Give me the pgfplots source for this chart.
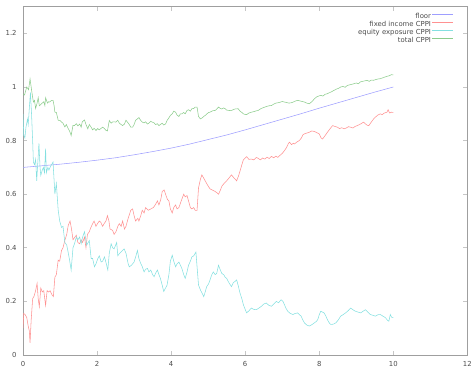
\documentclass[border=0pt]{standalone}
\usepackage{pgfplots}
\pgfplotsset{compat=1.18}
\usepackage{fontspec}
\setmainfont{DejaVu Sans}

\definecolor{floorc}{RGB}{158,158,255}
\definecolor{fixedc}{RGB}{255,145,145}
\definecolor{equityc}{RGB}{132,224,224}
\definecolor{totalc}{RGB}{140,204,140}

\begin{document}
\begin{tikzpicture}
\begin{axis}[
  scale only axis, width=449.7bp, height=352.6bp,
  xmin=0, xmax=12, ymin=0, ymax=1.3,
  xtick={0,2,4,6,8,10,12},
  ytick={0,0.2,0.4,0.6,0.8,1,1.2},
  tick align=inside, major tick length=4.5bp,
  every tick/.style={gray!45, line width=0.9bp},
  axis line style={gray!75, line width=0.7bp},
  tick label style={font=\fontsize{7}{8}\selectfont, text=black!70},
  /pgf/number format/assume math mode=true,
  yticklabel style={xshift=-3bp},
  xticklabel style={yshift=-3bp},
  legend plot pos=right,
  legend cell align=right,
  legend style={draw=none, fill=none, at={(0.9755,0.989)}, anchor=north east,
    font=\fontsize{7}{8}\selectfont, text=black!70, row sep=0pt,
    nodes={inner sep=1bp, text height=4.8bp, text depth=1.2bp}},
  legend image code/.code={\draw[#1] (0bp,2.3bp) -- (21bp,2.3bp);},
  every axis plot/.append style={line width=0.55bp},
]
% floor
\addplot[floorc] coordinates {
(0,0.700) (0.5,0.706) (1,0.712) (1.5,0.719) (2,0.727) (2.5,0.736)
(3,0.747) (3.5,0.759) (4,0.772) (4.5,0.787) (5,0.804) (5.5,0.821)
(6,0.840) (6.5,0.860) (7,0.880) (7.5,0.900) (8,0.921) (8.5,0.941)
(9,0.961) (9.5,0.981) (10,1.000)
};
\addlegendentry{floor}
% fixed income part
\addplot[fixedc] coordinates {
(0.00,0.10) (0.02,0.155) (0.06,0.15) (0.10,0.14) (0.14,0.108) (0.17,0.09)
(0.19,0.045) (0.22,0.13) (0.26,0.21) (0.30,0.22) (0.34,0.24) (0.38,0.267)
(0.41,0.21) (0.44,0.18) (0.48,0.25) (0.52,0.235) (0.56,0.24) (0.61,0.185)
(0.65,0.24) (0.69,0.235) (0.73,0.24) (0.78,0.225) (0.82,0.218) (0.86,0.29)
(0.90,0.30) (0.95,0.354) (0.99,0.35) (1.04,0.39) (1.08,0.40) (1.13,0.428)
(1.18,0.45) (1.22,0.483) (1.27,0.50) (1.31,0.47) (1.35,0.43) (1.40,0.44)
(1.44,0.447) (1.48,0.42) (1.53,0.415) (1.57,0.43) (1.61,0.42) (1.66,0.44)
(1.70,0.40) (1.74,0.45) (1.79,0.46) (1.83,0.475) (1.88,0.49) (1.92,0.50)
(1.97,0.48) (2.01,0.49) (2.06,0.50) (2.10,0.495) (2.15,0.48) (2.19,0.49)
(2.24,0.50) (2.28,0.52) (2.32,0.50) (2.35,0.47) (2.42,0.465) (2.46,0.45)
(2.51,0.46) (2.56,0.48) (2.60,0.49) (2.65,0.48) (2.69,0.50) (2.74,0.47)
(2.78,0.48) (2.84,0.51) (2.91,0.54) (2.96,0.545) (3.00,0.52) (3.04,0.50)
(3.10,0.51) (3.13,0.50) (3.18,0.52) (3.22,0.54) (3.27,0.53) (3.31,0.55)
(3.38,0.54) (3.45,0.545) (3.52,0.55) (3.58,0.562) (3.63,0.575) (3.67,0.56)
(3.72,0.58) (3.76,0.61) (3.81,0.616) (3.85,0.60) (3.90,0.58) (3.94,0.575)
(3.98,0.545) (4.03,0.53) (4.07,0.55) (4.12,0.56) (4.16,0.545) (4.21,0.55)
(4.26,0.57) (4.30,0.585) (4.34,0.60) (4.38,0.59) (4.43,0.595) (4.48,0.57)
(4.52,0.55) (4.56,0.545) (4.61,0.55) (4.65,0.54) (4.70,0.54) (4.74,0.624)
(4.79,0.655) (4.83,0.672) (4.88,0.66) (4.92,0.65) (4.98,0.635) (5.05,0.62)
(5.12,0.615) (5.19,0.61) (5.24,0.605) (5.28,0.60) (5.33,0.615) (5.37,0.63)
(5.43,0.64) (5.50,0.65) (5.56,0.66) (5.63,0.672) (5.70,0.66) (5.77,0.65)
(5.82,0.668) (5.86,0.686) (5.91,0.71) (5.95,0.728) (6.00,0.735) (6.04,0.74)
(6.10,0.73) (6.17,0.731) (6.23,0.728) (6.30,0.737) (6.35,0.734) (6.41,0.728)
(6.47,0.735) (6.53,0.731) (6.59,0.738) (6.65,0.733) (6.71,0.741) (6.77,0.736)
(6.83,0.742) (6.88,0.7375) (6.94,0.745) (7.00,0.752) (7.06,0.7625) (7.12,0.775)
(7.17,0.79) (7.20,0.794) (7.25,0.785) (7.30,0.79) (7.33,0.7875) (7.40,0.795)
(7.46,0.80) (7.52,0.81) (7.56,0.822) (7.60,0.825) (7.66,0.828) (7.73,0.831)
(7.80,0.836) (7.87,0.834) (7.93,0.83) (8.00,0.825) (8.05,0.81) (8.09,0.806)
(8.14,0.815) (8.22,0.831) (8.28,0.842) (8.36,0.856) (8.42,0.853) (8.49,0.85)
(8.55,0.845) (8.61,0.848) (8.67,0.844) (8.73,0.847) (8.79,0.852) (8.85,0.85)
(8.91,0.847) (8.97,0.853) (9.03,0.856) (9.09,0.86) (9.14,0.864) (9.20,0.869)
(9.25,0.862) (9.30,0.857) (9.34,0.856) (9.40,0.868) (9.47,0.881) (9.52,0.888)
(9.58,0.895) (9.65,0.90) (9.70,0.897) (9.76,0.903) (9.83,0.906) (9.86,0.915)
(9.90,0.903) (9.95,0.906) (10.00,0.905)
};
\addlegendentry{fixed income CPPI}
% equity exposure
\addplot[equityc] coordinates {
(0.00,0.90) (0.02,0.82) (0.05,0.81) (0.08,0.85) (0.12,0.88) (0.14,0.86)
(0.17,0.92) (0.20,0.98) (0.23,0.90) (0.26,0.80) (0.28,0.72) (0.31,0.71)
(0.34,0.73) (0.37,0.65) (0.40,0.72) (0.43,0.79) (0.46,0.70) (0.48,0.67)
(0.52,0.69) (0.55,0.70) (0.58,0.68) (0.61,0.77) (0.63,0.68) (0.67,0.70)
(0.70,0.69) (0.73,0.70) (0.77,0.71) (0.81,0.72) (0.84,0.65) (0.86,0.60)
(0.90,0.64) (0.93,0.58) (0.95,0.54) (0.99,0.50) (1.04,0.476) (1.08,0.48)
(1.13,0.42) (1.18,0.41) (1.21,0.39) (1.25,0.36) (1.30,0.317) (1.35,0.40)
(1.39,0.415) (1.44,0.44) (1.48,0.43) (1.53,0.44) (1.57,0.415) (1.61,0.44)
(1.66,0.46) (1.72,0.41) (1.79,0.427) (1.84,0.36) (1.88,0.36) (1.93,0.329)
(1.97,0.34) (2.02,0.36) (2.06,0.37) (2.11,0.347) (2.15,0.35) (2.20,0.366)
(2.25,0.34) (2.29,0.317) (2.33,0.38) (2.38,0.415) (2.42,0.40) (2.46,0.396)
(2.53,0.42) (2.56,0.37) (2.60,0.378) (2.65,0.385) (2.73,0.396) (2.78,0.38)
(2.84,0.34) (2.87,0.329) (2.93,0.335) (3.00,0.347) (3.05,0.37) (3.09,0.39)
(3.13,0.36) (3.18,0.341) (3.22,0.33) (3.27,0.31) (3.31,0.32) (3.36,0.323)
(3.40,0.31) (3.45,0.317) (3.50,0.30) (3.54,0.292) (3.58,0.305) (3.63,0.317)
(3.67,0.30) (3.71,0.286) (3.76,0.26) (3.80,0.237) (3.85,0.25) (3.89,0.261)
(3.94,0.30) (3.98,0.35) (4.03,0.372) (4.07,0.35) (4.12,0.329) (4.16,0.34)
(4.21,0.347) (4.25,0.335) (4.29,0.323) (4.34,0.30) (4.38,0.286) (4.43,0.31)
(4.47,0.335) (4.52,0.35) (4.56,0.366) (4.61,0.37) (4.67,0.384) (4.70,0.33)
(4.74,0.261) (4.80,0.24) (4.84,0.23) (4.88,0.218) (4.92,0.235) (4.96,0.255)
(5.01,0.265) (5.05,0.28) (5.10,0.30) (5.14,0.31) (5.19,0.30) (5.23,0.304)
(5.28,0.335) (5.32,0.32) (5.37,0.304) (5.42,0.30) (5.46,0.29) (5.50,0.286)
(5.56,0.27) (5.63,0.255) (5.68,0.27) (5.73,0.275) (5.77,0.28) (5.81,0.26)
(5.86,0.231) (5.91,0.21) (5.95,0.188) (6.00,0.17) (6.04,0.157) (6.10,0.165)
(6.17,0.175) (6.23,0.17) (6.30,0.169) (6.37,0.175) (6.44,0.182) (6.50,0.19)
(6.57,0.194) (6.64,0.185) (6.71,0.182) (6.77,0.19) (6.84,0.2) (6.90,0.195)
(6.97,0.206) (7.02,0.2) (7.06,0.188) (7.10,0.175) (7.15,0.163) (7.22,0.155)
(7.29,0.151) (7.35,0.155) (7.42,0.157) (7.47,0.15) (7.51,0.145) (7.56,0.13)
(7.60,0.12) (7.66,0.112) (7.73,0.108) (7.80,0.113) (7.87,0.12) (7.92,0.125)
(7.96,0.132) (8.00,0.15) (8.04,0.163) (8.09,0.16) (8.13,0.157) (8.18,0.145)
(8.22,0.132) (8.27,0.12) (8.31,0.114) (8.38,0.115) (8.45,0.12) (8.51,0.13)
(8.58,0.145) (8.64,0.15) (8.71,0.157) (8.78,0.165) (8.85,0.175) (8.92,0.168)
(8.98,0.163) (9.05,0.16) (9.12,0.157) (9.18,0.163) (9.25,0.169) (9.31,0.16)
(9.38,0.151) (9.45,0.148) (9.52,0.145) (9.58,0.15) (9.65,0.151) (9.72,0.145)
(9.79,0.139) (9.84,0.13) (9.88,0.126) (9.92,0.151) (9.96,0.14) (10.00,0.139)
};
\addlegendentry{equity exposure CPPI}
% total portfolio value
\addplot[totalc] coordinates {
(0.00,0.974) (0.04,0.97) (0.08,0.99) (0.10,1.0) (0.15,0.99) (0.19,1.03)
(0.22,1.00) (0.24,0.98) (0.28,0.944) (0.31,0.95) (0.34,0.92) (0.38,0.94)
(0.41,0.96) (0.44,0.93) (0.48,0.935) (0.52,0.94) (0.56,0.945) (0.59,0.931)
(0.61,0.96) (0.66,0.94) (0.69,0.945) (0.72,0.944) (0.77,0.95) (0.81,0.95)
(0.84,0.93) (0.86,0.906) (0.90,0.905) (0.95,0.876) (1.00,0.875) (1.04,0.869)
(1.08,0.865) (1.13,0.851) (1.17,0.86) (1.22,0.845) (1.26,0.835) (1.30,0.819)
(1.35,0.857) (1.39,0.856) (1.44,0.863) (1.48,0.855) (1.53,0.862) (1.57,0.85)
(1.60,0.87) (1.66,0.877) (1.70,0.86) (1.75,0.844) (1.79,0.86) (1.84,0.85)
(1.88,0.84) (1.92,0.846) (1.97,0.838) (2.02,0.845) (2.06,0.84) (2.11,0.846)
(2.15,0.85) (2.20,0.845) (2.24,0.838) (2.28,0.836) (2.33,0.875) (2.38,0.865)
(2.42,0.87) (2.47,0.87) (2.51,0.869) (2.56,0.876) (2.60,0.865) (2.65,0.86)
(2.69,0.856) (2.74,0.862) (2.78,0.876) (2.82,0.869) (2.87,0.86) (2.91,0.85)
(2.96,0.85) (3.00,0.86) (3.04,0.876) (3.09,0.881) (3.13,0.886) (3.18,0.875)
(3.22,0.869) (3.27,0.866) (3.31,0.87) (3.36,0.862) (3.40,0.865) (3.45,0.872)
(3.49,0.869) (3.54,0.866) (3.58,0.86) (3.63,0.863) (3.67,0.856) (3.71,0.86)
(3.76,0.865) (3.80,0.858) (3.85,0.862) (3.89,0.875) (3.94,0.885) (3.98,0.894)
(4.03,0.90) (4.07,0.91) (4.12,0.906) (4.16,0.895) (4.21,0.89) (4.25,0.9)
(4.29,0.9) (4.34,0.905) (4.38,0.9) (4.43,0.9125) (4.47,0.915) (4.52,0.91)
(4.56,0.919) (4.61,0.92) (4.65,0.925) (4.70,0.925) (4.74,0.89) (4.79,0.881)
(4.84,0.885) (4.88,0.89) (4.92,0.894) (4.97,0.9) (5.01,0.905) (5.05,0.906)
(5.10,0.91) (5.14,0.912) (5.19,0.9125) (5.23,0.918) (5.28,0.925) (5.33,0.92)
(5.37,0.918) (5.42,0.922) (5.46,0.919) (5.50,0.914) (5.56,0.9125) (5.63,0.912)
(5.68,0.916) (5.73,0.918) (5.81,0.919) (5.86,0.91) (5.91,0.905) (5.95,0.9)
(5.99,0.898) (6.04,0.897) (6.10,0.903) (6.17,0.906) (6.23,0.908) (6.30,0.911)
(6.35,0.9125) (6.41,0.918) (6.47,0.922) (6.53,0.925) (6.59,0.928) (6.65,0.93)
(6.71,0.931) (6.77,0.936) (6.83,0.94) (6.88,0.941) (6.94,0.943) (7.00,0.946)
(7.06,0.944) (7.12,0.942) (7.18,0.94) (7.24,0.941) (7.30,0.944) (7.36,0.948)
(7.42,0.95) (7.48,0.948) (7.54,0.946) (7.60,0.944) (7.66,0.94) (7.73,0.9375)
(7.80,0.945) (7.87,0.956) (7.93,0.963) (8.00,0.967) (8.04,0.969) (8.10,0.966)
(8.16,0.973) (8.22,0.975) (8.28,0.979) (8.34,0.983) (8.40,0.9875) (8.46,0.992)
(8.52,0.995) (8.58,1.0) (8.64,1.002) (8.70,0.999) (8.76,1.006) (8.82,1.008)
(8.88,1.01) (8.94,1.0125) (9.00,1.015) (9.06,1.012) (9.11,1.019) (9.17,1.021)
(9.23,1.023) (9.29,1.025) (9.35,1.021) (9.41,1.026) (9.47,1.025) (9.53,1.028)
(9.59,1.03) (9.65,1.031) (9.71,1.034) (9.77,1.037) (9.83,1.04) (9.89,1.042)
(9.95,1.046) (10.00,1.045)
};
\addlegendentry{total CPPI}
\end{axis}
% white margin round the plot box
\path (current axis.south west) ++(-23.3bp,-13.7bp) coordinate (bl);
\path (current axis.north east) ++(2bp,6.7bp) coordinate (tr);
\path (bl) rectangle (tr);
\end{tikzpicture}
\end{document}
